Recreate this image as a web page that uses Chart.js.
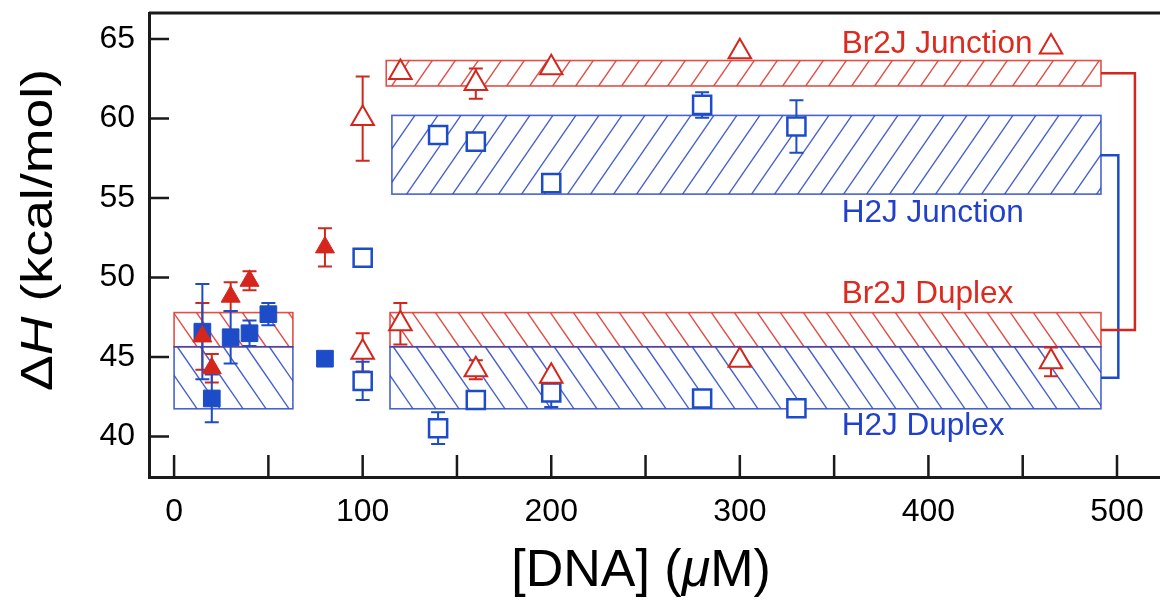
<!DOCTYPE html>
<html>
<head>
<meta charset="utf-8">
<script src="https://cdn.jsdelivr.net/npm/chart.js@4.4.1/dist/chart.umd.min.js"></script>
<style>
  html, body { margin: 0; padding: 0; background: #fff; }
  #wrap { width: 1160px; height: 601px; }
</style>
</head>
<body>
<div id="wrap"><canvas id="dh-chart" width="1160" height="601"></canvas></div>
<script>
// Delta H vs [DNA]: Br2J (red triangles), H2J (blue squares)
const br2jFilledX = [15, 20, 30, 40, 80];
const br2jFilledY = [46.3, 44.3, 48.8, 49.8, 51.9];
const br2jFilledErr = [2.1, 0.9, 0.9, 0.6, 1.2];

const h2jFilledX = [15, 20, 30, 40, 50, 80];
const h2jFilledY = [46.6, 42.4, 46.25, 46.5, 47.7, 44.9];
const h2jFilledErr = [3.0, 1.5, 1.65, 0.8, 0.7, 0];

const br2jOpenX = [100, 100, 120, 120, 160, 160, 200, 200, 300, 300, 465, 465];
const br2jOpenY = [60.0, 45.3, 62.9, 47.1, 62.2, 44.2, 63.2, 43.8, 64.2, 44.8, 64.5, 44.7];
const br2jOpenErr = [2.65, 1.2, 0, 1.3, 0.95, 0.6, 0, 0, 0, 0, 0, 0.9];

const h2jOpenX = [100, 100, 140, 140, 160, 160, 200, 200, 280, 280, 330, 330];
const h2jOpenY = [51.25, 43.5, 58.97, 40.53, 58.55, 42.3, 55.94, 42.77, 60.86, 42.4, 59.5, 41.78];
const h2jOpenErr = [0, 1.2, 0, 1.0, 0, 0, 0, 0.9, 0.8, 0, 1.65, 0.5];

// hatched ranges (mean +/- spread)
const bandSeries = ['Br2J', 'H2J', 'Br2J', 'H2J', 'Br2J', 'H2J'];
const bandKind = ['Duplex', 'Duplex', 'Junction', 'Junction', 'Duplex', 'Duplex'];
const bandX0 = [0, 0, 112.5, 115.5, 114.5, 114.5];
const bandX1 = [63, 63, 491.5, 491.5, 491.5, 491.5];
const bandY0 = [45.65, 41.75, 62.05, 55.25, 45.65, 41.75];
const bandY1 = [47.8, 45.65, 63.65, 60.2, 47.8, 45.65];

// brackets joining junction and duplex ranges
const br2jBracketX = [491.5, 509.5, 509.5, 491.5];
const br2jBracketY = [62.85, 62.85, 46.7, 46.7];
const h2jBracketX = [491.5, 500.7, 500.7, 491.5];
const h2jBracketY = [57.7, 57.7, 43.7, 43.7];

const xRange = [-13.3, 522.8];
const yRange = [37.46, 66.64];

const FONT = "'Liberation Sans', Arial, Helvetica, sans-serif";
const RED = '#d4261d';
const BLUE = '#1d4cc8';
const colorOf = { Br2J: '#dc2a1e', H2J: '#2140cc' };
const hatchColor = { Br2J: 'rgba(222,60,50,0.9)', H2J: 'rgba(40,70,200,0.85)' };

function pts(xs, ys) {
    return xs.map((x, i) => ({ x: x, y: ys[i] }));
}

function hatchRect(ctx, x0, y0, x1, y1, dir, color) {
    ctx.save();
    ctx.beginPath();
    ctx.rect(x0, y0, x1 - x0, y1 - y0);
    ctx.clip();
    const h = y1 - y0, run = h / 1.45, gap = 23;
    ctx.strokeStyle = color;
    ctx.lineWidth = 1.4;
    ctx.beginPath();
    for (let x = x0 - run - gap; x < x1 + gap; x += gap) {
        if (dir === '/') { ctx.moveTo(x, y1); ctx.lineTo(x + run, y0); }
        else { ctx.moveTo(x, y0); ctx.lineTo(x + run, y1); }
    }
    ctx.stroke();
    ctx.restore();
    ctx.save();
    ctx.strokeStyle = color;
    ctx.lineWidth = 1.6;
    ctx.strokeRect(x0, y0, x1 - x0, y1 - y0);
    ctx.restore();
}

function drawParts(ctx, parts, size, stretch) {
    let total = 0;
    parts.forEach(p => {
        ctx.font = (p.italic ? 'italic ' : '') + size + 'px ' + FONT;
        p.w = ctx.measureText(p.text).width;
        total += p.w;
    });
    ctx.scale(stretch, 1);
    let x = -total / 2;
    ctx.textBaseline = 'middle';
    ctx.textAlign = 'left';
    parts.forEach(p => {
        ctx.font = (p.italic ? 'italic ' : '') + size + 'px ' + FONT;
        ctx.fillText(p.text, x, 0);
        x += p.w;
    });
}

// keep the plot frame where the figure has it
function fixBox(s, w, h) {
    if (w) s.width = w;
    if (h) s.height = h;
    s.paddingTop = 0; s.paddingBottom = 0; s.paddingLeft = 0; s.paddingRight = 0;
}

const figurePlugin = {
    id: 'figure',
    beforeDatasetsDraw(chart) {
        const { ctx, scales: { x, y } } = chart;
        // hatched bands
        bandX0.forEach((_, i) => {
            const px0 = x.getPixelForValue(bandX0[i]), px1 = x.getPixelForValue(bandX1[i]);
            const py0 = y.getPixelForValue(bandY1[i]), py1 = y.getPixelForValue(bandY0[i]);
            hatchRect(ctx, px0, py0, px1, py1, bandKind[i] === 'Junction' ? '/' : '\\', hatchColor[bandSeries[i]]);
        });
        // error bars
        const groups = [
            [br2jFilledX, br2jFilledY, br2jFilledErr, RED],
            [h2jFilledX, h2jFilledY, h2jFilledErr, BLUE],
            [br2jOpenX, br2jOpenY, br2jOpenErr, RED],
            [h2jOpenX, h2jOpenY, h2jOpenErr, BLUE]
        ];
        ctx.save();
        ctx.lineWidth = 2;
        groups.forEach(([xs, ys, es, c]) => {
            ctx.strokeStyle = c;
            xs.forEach((xv, i) => {
                if (!es[i]) return;
                const px = x.getPixelForValue(xv);
                const top = y.getPixelForValue(ys[i] + es[i]);
                const bot = y.getPixelForValue(ys[i] - es[i]);
                ctx.beginPath();
                ctx.moveTo(px, top); ctx.lineTo(px, bot);
                ctx.moveTo(px - 7, top); ctx.lineTo(px + 7, top);
                ctx.moveTo(px - 7, bot); ctx.lineTo(px + 7, bot);
                ctx.stroke();
            });
        });
        ctx.restore();
    },
    afterDatasetsDraw(chart, args, opts) {
        const { ctx, scales: { x, y } } = chart;
        ctx.save();
        ctx.font = '31.5px ' + FONT;
        ctx.textAlign = 'left';
        ctx.textBaseline = 'alphabetic';
        opts.labels.forEach(l => {
            ctx.fillStyle = colorOf[l.series];
            ctx.fillText(l.text, x.getPixelForValue(l.x), y.getPixelForValue(l.y));
        });
        ctx.restore();
    },
    afterDraw(chart) {
        const { ctx, chartArea: a, scales: { x, y } } = chart;
        ctx.save();
        ctx.strokeStyle = '#1a1a1a';
        ctx.lineWidth = 3;
        ctx.beginPath();
        ctx.moveTo(a.left, a.top); ctx.lineTo(a.right, a.top);
        ctx.stroke();
        // inward tick marks
        ctx.lineWidth = 2.5;
        ctx.beginPath();
        y.ticks.forEach(t => {
            const py = y.getPixelForValue(t.value);
            ctx.moveTo(a.left, py); ctx.lineTo(a.left + 20, py);
        });
        x.ticks.forEach(t => {
            const px = x.getPixelForValue(t.value);
            ctx.moveTo(px, a.bottom); ctx.lineTo(px, a.bottom - 22);
        });
        ctx.stroke();
        ctx.fillStyle = '#000';
        // axis titles
        ctx.save();
        ctx.translate(40, 230);
        ctx.rotate(-Math.PI / 2);
        drawParts(ctx, [{ text: 'Δ' }, { text: 'H', italic: true }, { text: ' (kcal/mol)' }], 44, 1.22);
        ctx.restore();
        ctx.save();
        ctx.translate(641, 572);
        drawParts(ctx, [{ text: '[DNA] (' }, { text: 'μ', italic: true }, { text: 'M)' }], 52, 1);
        ctx.restore();
        ctx.restore();
    }
};

const ctx = document.getElementById('dh-chart').getContext('2d');
new Chart(ctx, {
    type: 'scatter',
    data: {
        datasets: [
            { data: pts(br2jFilledX, br2jFilledY), pointStyle: 'triangle', pointRadius: 11,
              backgroundColor: RED, borderColor: RED, borderWidth: 1 },
            { data: pts(h2jFilledX, h2jFilledY), pointStyle: 'rect', pointRadius: 11.8,
              backgroundColor: BLUE, borderColor: BLUE, borderWidth: 1 },
            { data: pts(br2jOpenX, br2jOpenY), pointStyle: 'triangle', pointRadius: 13,
              backgroundColor: '#fff', borderColor: RED, borderWidth: 2 },
            { data: pts(h2jOpenX, h2jOpenY), pointStyle: 'rect', pointRadius: 12.8,
              backgroundColor: '#fff', borderColor: BLUE, borderWidth: 2.5 },
            { type: 'line', data: pts(br2jBracketX, br2jBracketY), borderColor: RED, borderWidth: 2.5,
              pointRadius: 0, fill: false, tension: 0 },
            { type: 'line', data: pts(h2jBracketX, h2jBracketY), borderColor: BLUE, borderWidth: 2.5,
              pointRadius: 0, fill: false, tension: 0 }
        ]
    },
    options: {
        responsive: false,
        animation: false,
        events: [],
        layout: { autoPadding: false, padding: { top: 13, left: 0, right: 0, bottom: 0 } },
        plugins: {
            legend: { display: false },
            tooltip: { enabled: false },
            figure: {
                labels: [
                    { text: 'Br2J Junction', series: 'Br2J', x: 354, y: 64.11 },
                    { text: 'H2J Junction', series: 'H2J', x: 354, y: 53.52 },
                    { text: 'Br2J Duplex', series: 'Br2J', x: 354, y: 48.39 },
                    { text: 'H2J Duplex', series: 'H2J', x: 354, y: 40.11 }
                ]
            }
        },
        scales: {
            x: {
                type: 'linear', min: xRange[0], max: xRange[1],
                afterFit: s => fixBox(s, 0, 124),
                grid: { display: false, drawTicks: false },
                border: { display: true, color: '#1a1a1a', width: 3 },
                ticks: { stepSize: 50, includeBounds: false, padding: 16, color: '#000',
                    font: { size: 32, family: FONT },
                    callback: v => (v % 100 === 0 ? v : '') }
            },
            y: {
                type: 'linear', min: yRange[0], max: yRange[1],
                afterFit: s => fixBox(s, 149, 0),
                grid: { display: false, drawTicks: false },
                border: { display: true, color: '#1a1a1a', width: 3 },
                ticks: { stepSize: 5, includeBounds: false, padding: 14, color: '#000',
                    font: { size: 32, family: FONT } }
            }
        }
    },
    plugins: [figurePlugin]
});
</script>
</body>
</html>
